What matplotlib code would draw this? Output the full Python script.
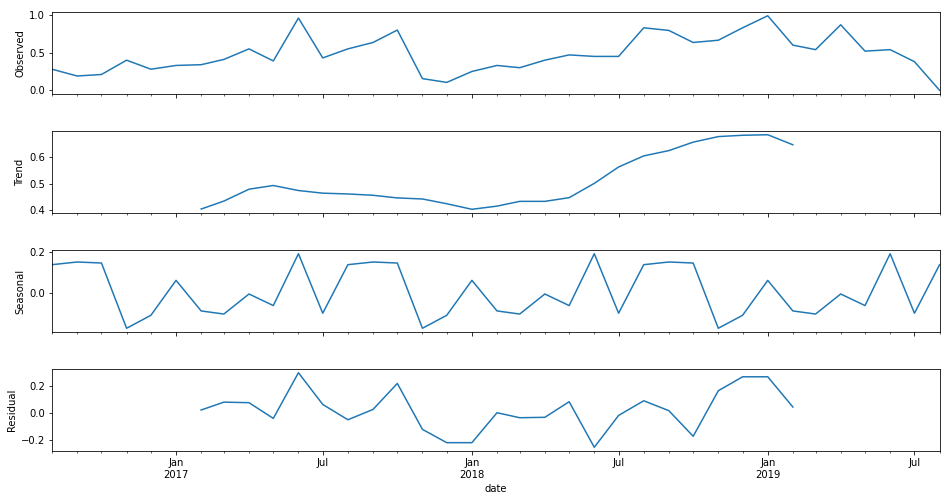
import numpy as np
import pandas as pd
import matplotlib
matplotlib.use("Agg")
import matplotlib.pyplot as plt
import matplotlib.dates as mdates
from matplotlib.ticker import FuncFormatter, FormatStrFormatter

dates = pd.date_range("2016-08-01", "2019-08-01", freq="MS")

observed = [0.28, 0.19, 0.21, 0.40, 0.28, 0.33, 0.34, 0.41, 0.55, 0.39, 0.96, 0.43,
            0.55, 0.635, 0.80, 0.155, 0.105, 0.25, 0.33, 0.30, 0.40, 0.47, 0.45, 0.45,
            0.83, 0.795, 0.635, 0.665, 0.83, 0.99, 0.60, 0.54, 0.87, 0.52, 0.54, 0.38,
            0.0]

nan = np.nan
trend = [nan, nan, nan, nan, nan, nan,
         0.405, 0.435, 0.48, 0.494, 0.475, 0.465, 0.462, 0.457, 0.447, 0.443, 0.425,
         0.404, 0.416, 0.434, 0.434, 0.448, 0.502, 0.564, 0.606, 0.626, 0.658, 0.679,
         0.684, 0.686, 0.648,
         nan, nan, nan, nan, nan, nan]

seasonal_year = [0.137, 0.150, 0.145, -0.171, -0.108, 0.061,
                 -0.087, -0.102, -0.005, -0.061, 0.190, -0.098]
seasonal = (seasonal_year * 4)[:len(dates)]

resid = [nan, nan, nan, nan, nan, nan,
         0.025, 0.083, 0.079, -0.037, 0.30, 0.066, -0.047, 0.029, 0.221, -0.118, -0.216,
         -0.216, 0.005, -0.032, -0.029, 0.086, -0.250, -0.015, 0.093, 0.020, -0.169,
         0.167, 0.270, 0.270, 0.047,
         nan, nan, nan, nan, nan, nan]

# saved at 72 dpi like the original notebook output
fig, axes = plt.subplots(4, 1, sharex=True, figsize=(951 / 72, 501 / 72), dpi=72)
fig.subplots_adjust(left=0.0547, right=0.988, top=0.976, bottom=0.0998, hspace=0.451)

series = [(observed, "Observed"), (trend, "Trend"), (seasonal, "Seasonal"), (resid, "Residual")]
for ax, (vals, name) in zip(axes, series):
    ax.plot(dates, vals, color="#1f77b4", linewidth=1.5)
    ax.set_ylabel(name)

axes[0].set_yticks([0.0, 0.5, 1.0])
axes[0].yaxis.set_major_formatter(FormatStrFormatter("%.1f"))
axes[1].set_yticks([0.4, 0.5, 0.6])
axes[2].set_yticks([0.0, 0.2])
axes[3].set_yticks([-0.2, 0.0, 0.2])

def fmt(x, pos):
    d = mdates.num2date(x)
    if d.month == 1:
        return d.strftime("%b\n%Y")
    return d.strftime("%b")

ax = axes[-1]
ax.xaxis.set_major_locator(mdates.MonthLocator(bymonth=[1, 7]))
ax.xaxis.set_minor_locator(mdates.MonthLocator())
ax.xaxis.set_major_formatter(FuncFormatter(fmt))
ax.set_xlim(dates[0], dates[-1])
ax.set_xlabel("date")

fig.savefig("out.png", dpi=72)
